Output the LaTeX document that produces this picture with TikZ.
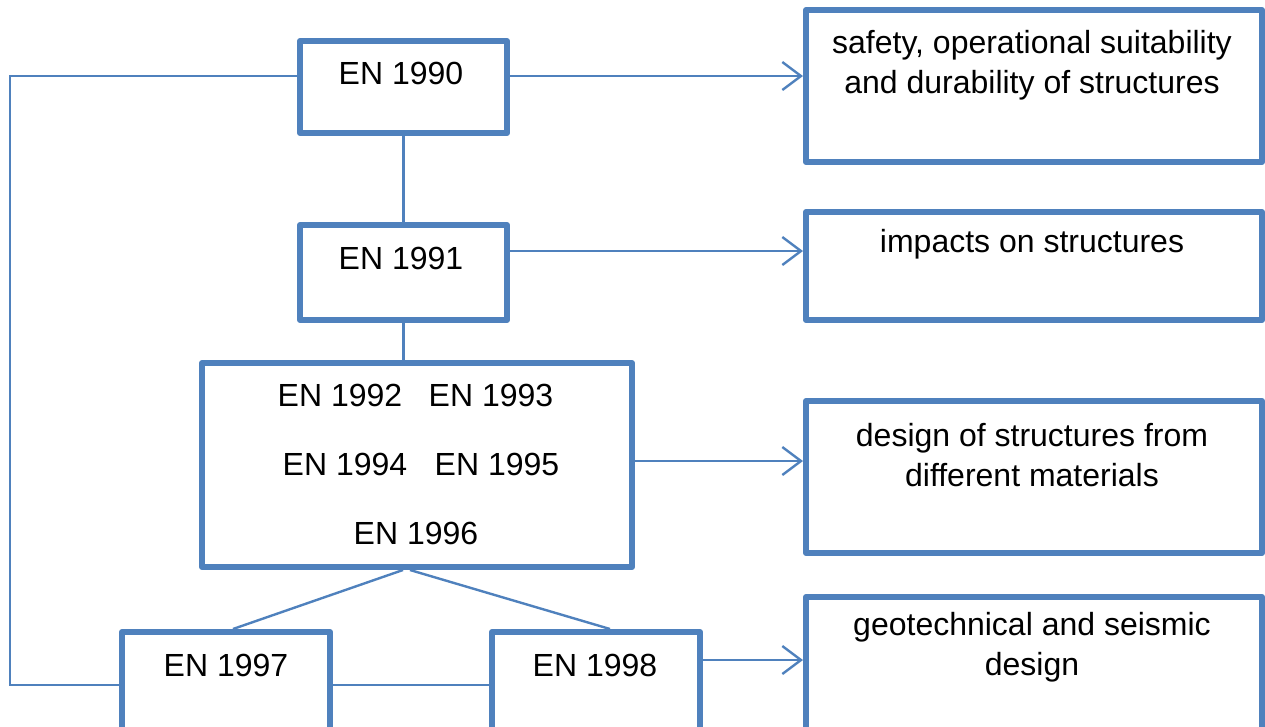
\documentclass[tikz,border=0pt]{standalone}
\usepackage{fontspec}
\setmainfont{Liberation Sans}
\usetikzlibrary{arrows.meta,calc}
\definecolor{boxblue}{HTML}{4F81BD}
\tikzset{
  box/.style={draw=boxblue, line width=4.5pt, line join=round, inner sep=0pt},
  conn/.style={draw=boxblue, line width=1.8pt},
  arr/.style={conn, -{Straight Barb[length=14pt, width=21pt, line width=1.8pt]}},
  txt/.style={font=\fontsize{24}{30}\selectfont, inner sep=0pt, align=center, text=black},
}
\begin{document}
\begin{tikzpicture}[x=0.75pt, y=-0.75pt]
\useasboundingbox (0,0) rectangle (1265,726);
\clip (0,0) rectangle (1265,726);
% boxes (corners in px)
\node[box, minimum width=207*0.75pt, minimum height=92*0.75pt] (b1990) at (403.5,87) {};
\node[box, minimum width=207*0.75pt, minimum height=95*0.75pt] (b1991) at (403.5,272.5) {};
\node[box, minimum width=430*0.75pt, minimum height=204*0.75pt] (b1992) at (417,465) {};
\node[box, minimum width=208*0.75pt, minimum height=140*0.75pt] (b1997) at (226,702) {};
\node[box, minimum width=208*0.75pt, minimum height=140*0.75pt] (b1998) at (596,702) {};
\node[box, minimum width=456*0.75pt, minimum height=152*0.75pt] (r1) at (1034,86) {};
\node[box, minimum width=456*0.75pt, minimum height=108*0.75pt] (r2) at (1034,266) {};
\node[box, minimum width=456*0.75pt, minimum height=152*0.75pt] (r3) at (1034,477) {};
\node[box, minimum width=456*0.75pt, minimum height=160*0.75pt] (r4) at (1034,677) {};
% texts
\node[txt] (t1990) at (401,73) {EN 1990};
\node[txt] (t1991) at (401,258) {EN 1991};
\node[txt] (t1992) at (340,395) {EN 1992};
\node[txt] (t1993) at (491,395) {EN 1993};
\node[txt] (t1994) at (345,464) {EN 1994};
\node[txt] (t1995) at (497,464) {EN 1995};
\node[txt] (t1996) at (416,533) {EN 1996};
\node[txt] (t1997) at (226,665) {EN 1997};
\node[txt] (t1998) at (595,665) {EN 1998};
\node[txt] (tr1) at (1032,65) {safety, operational suitability\\and durability of structures};
\node[txt] (tr2) at (1032,244) {impacts on structures};
\node[txt] (tr3) at (1032,455) {design of structures from\\different materials};
\node[txt] (tr4) at (1032,647) {geotechnical and seismic\\design};
% connectors
\coordinate (cl) at (10,76);
\coordinate (cb) at (10,685);
\draw[conn] (b1990.west |- cl) -- (cl) -- (cb) -- (b1997.west |- cb);
\draw[conn] (b1997.east |- cb) -- (b1998.west |- cb);
\draw[conn] (b1990.south) -- (b1991.north);
\draw[conn] (b1991.south) -- (b1991.south |- b1992.north);
\draw[conn] ($(b1992.south)+(-14,0)$) -- ($(b1997.north)+(7,0)$);
\draw[conn] ($(b1992.south)+(-7,0)$) -- ($(b1998.north)+(14,0)$);
\coordinate (a1) at (0,76);
\coordinate (a2) at (0,251);
\coordinate (a3) at (0,461);
\coordinate (a4) at (0,660);
\draw[arr] (b1990.east |- a1) -- (r1.west |- a1);
\draw[arr] (b1991.east |- a2) -- (r2.west |- a2);
\draw[arr] (b1992.east |- a3) -- (r3.west |- a3);
\draw[arr] (b1998.east |- a4) -- (r4.west |- a4);
\end{tikzpicture}
\end{document}
